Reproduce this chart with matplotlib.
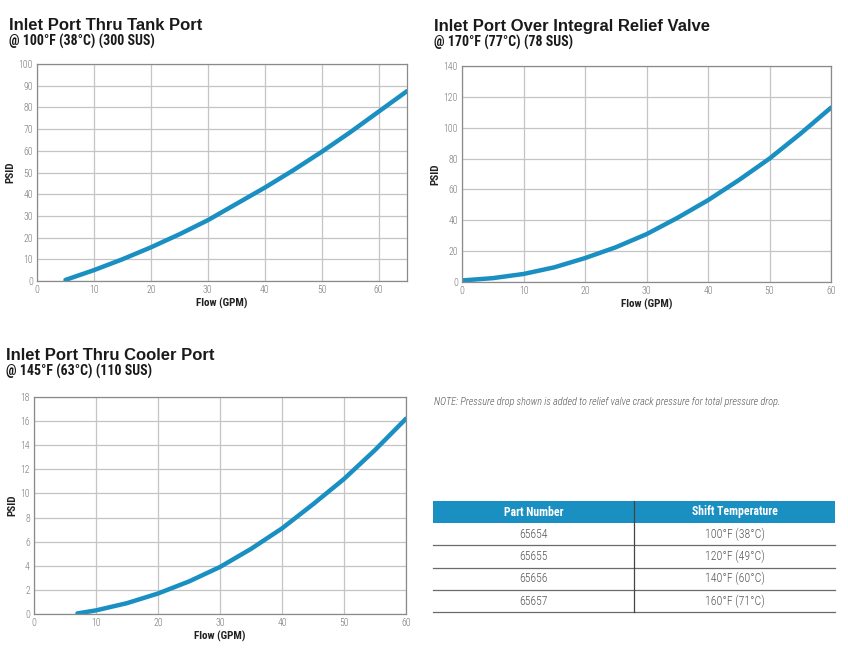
import numpy as np
import matplotlib.pyplot as plt
from matplotlib.patches import Rectangle
from matplotlib.lines import Line2D

# chart 1: inlet port thru tank port
tank_flow = [5, 10, 15, 20, 25, 30, 35, 40, 45, 50, 55, 60, 65]
tank_psid = [0.5, 5, 10, 15.5, 21.5, 28, 35.5, 43, 51, 59.5, 68.5, 78, 87.5]

# chart 2: inlet port over integral relief valve
relief_flow = [0, 5, 10, 15, 20, 25, 30, 35, 40, 45, 50, 55, 60]
relief_psid = [1, 2.5, 5.2, 9.5, 15.5, 22.5, 31, 41.5, 53, 66, 80, 96, 113]

# chart 3: inlet port thru cooler port
cooler_flow = [7, 10, 15, 20, 25, 30, 35, 40, 45, 50, 55, 60]
cooler_psid = [0.05, 0.3, 0.9, 1.7, 2.7, 3.9, 5.4, 7.1, 9.1, 11.2, 13.6, 16.2]

part_numbers = ["65654", "65655", "65656", "65657"]
shift_temps = ["100°F (38°C)", "120°F (49°C)", "140°F (60°C)", "160°F (71°C)"]

W, H = 848, 652
BLUE = "#1a8fc2"
GRID = "#c4c4c4"
TICK = "#767676"
NARROW = ["Roboto Condensed", "DejaVu Sans"]
HEAD = ["Liberation Sans", "DejaVu Sans"]

fig = plt.figure(figsize=(W / 100, H / 100), dpi=100)


def fx(x):
    return x / W


def fy(y):
    return 1 - y / H


def chart(l, r, t, b, flow, psid, xmax, xstep, ymax, ystep, title, sub, ty):
    ax = fig.add_axes([fx(l), fy(b), (r - l) / W, (b - t) / H])
    ax.plot(flow, psid, color=BLUE, lw=3.2, solid_capstyle="round",
            solid_joinstyle="round")
    ax.set_xlim(0, xmax)
    ax.set_ylim(0, ymax)
    ax.set_xticks(np.arange(0, xmax + 0.1, xstep))
    ax.set_yticks(np.arange(0, ymax + 0.1, ystep))
    ax.grid(True, color=GRID, lw=0.9)
    ax.set_axisbelow(True)
    ax.tick_params(length=0, labelsize=7, labelcolor=TICK, pad=3)
    for lab in ax.get_xticklabels() + ax.get_yticklabels():
        lab.set_fontfamily(NARROW)
        lab.set_fontweight("light")
    for s in ax.spines.values():
        s.set_color("#8a8a8a")
        s.set_linewidth(0.9)
    ax.set_xlabel("Flow (GPM)", fontsize=8, fontweight="bold",
                  family=NARROW, color="#222222", labelpad=2)
    ax.set_ylabel("PSID", fontsize=8, fontweight="bold",
                  family=NARROW, color="#222222", labelpad=2)
    fig.text(fx(l - 28), fy(ty), title, fontsize=12, fontweight="bold",
             family=HEAD, color="#1a1a1a", va="baseline")
    fig.text(fx(l - 28), fy(ty + 16), sub, fontsize=10, fontweight="bold",
             family=NARROW, color="#1a1a1a", va="baseline")
    return ax


chart(37, 407, 64, 281, tank_flow, tank_psid, 65, 10, 100, 10,
      "Inlet Port Thru Tank Port", "@ 100°F (38°C) (300 SUS)", 30)
chart(462, 831, 66, 282, relief_flow, relief_psid, 60, 10, 140, 20,
      "Inlet Port Over Integral Relief Valve", "@ 170°F (77°C) (78 SUS)", 31)
chart(34, 406, 397, 614, cooler_flow, cooler_psid, 60, 10, 18, 2,
      "Inlet Port Thru Cooler Port", "@ 145°F (63°C) (110 SUS)", 360)

fig.text(fx(434), fy(402), "NOTE: Pressure drop shown is added to relief valve crack pressure for total pressure drop.",
         fontsize=7.4, style="italic", fontweight="light", family=NARROW,
         color="#555555", va="center")

# part number table
tl, tr, tdiv = 433, 835, 634
top, head_h, row_h = 501, 22, 22.3
fig.patches.append(Rectangle((fx(tl), fy(top + head_h)), (tr - tl) / W, head_h / H,
                             transform=fig.transFigure, color=BLUE, lw=0))
fig.text(fx((tl + tdiv) / 2), fy(top + head_h / 2), "Part Number", fontsize=8.5,
         fontweight="bold", family=NARROW, color="white", ha="center", va="center")
fig.text(fx((tdiv + tr) / 2), fy(top + head_h / 2), "Shift Temperature", fontsize=8.5,
         fontweight="bold", family=NARROW, color="white", ha="center", va="center")
for i, (pn, st) in enumerate(zip(part_numbers, shift_temps)):
    yc = top + head_h + row_h * (i + 0.5)
    fig.text(fx((tl + tdiv) / 2), fy(yc), pn, fontsize=8.5, family=NARROW,
             fontweight="light", color="#555555", ha="center", va="center")
    fig.text(fx((tdiv + tr) / 2), fy(yc), st, fontsize=8.5, family=NARROW,
             fontweight="light", color="#555555", ha="center", va="center")
    yl = top + head_h + row_h * (i + 1)
    fig.lines.append(Line2D([fx(tl), fx(tr)], [fy(yl), fy(yl)],
                            transform=fig.transFigure, color="#6a6a6a", lw=0.9))
fig.lines.append(Line2D([fx(tdiv), fx(tdiv)], [fy(top), fy(top + head_h + 4 * row_h)],
                        transform=fig.transFigure, color="#444444", lw=0.9))

fig.savefig("out.png", dpi=100)
